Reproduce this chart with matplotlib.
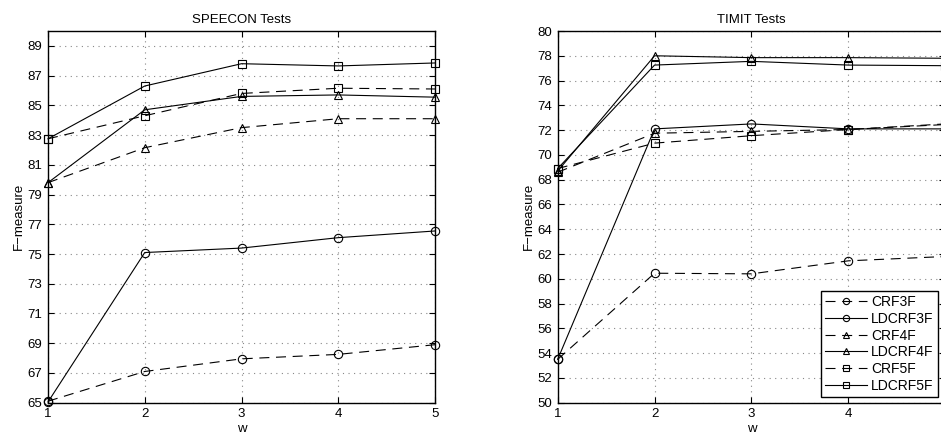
import matplotlib
matplotlib.use('Agg')
import matplotlib.pyplot as plt

# window sizes
w = [1, 2, 3, 4, 5]

# SPEECON results
sp_crf3 = [65.1, 67.1, 67.95, 68.25, 68.9]
sp_ldcrf3 = [65.05, 75.1, 75.4, 76.1, 76.55]
sp_crf4 = [79.8, 82.15, 83.5, 84.1, 84.1]
sp_ldcrf4 = [79.8, 84.7, 85.6, 85.7, 85.55]
sp_crf5 = [82.75, 84.3, 85.8, 86.15, 86.1]
sp_ldcrf5 = [82.75, 86.3, 87.8, 87.65, 87.85]

# TIMIT results
ti_crf3 = [53.5, 60.45, 60.4, 61.45, 61.8]
ti_ldcrf3 = [53.5, 72.1, 72.5, 72.1, 72.1]
ti_crf4 = [68.6, 71.75, 71.9, 72.05, 72.45]
ti_ldcrf4 = [68.7, 78.0, 77.85, 77.85, 77.8]
ti_crf5 = [68.9, 70.95, 71.55, 72.05, 72.5]
ti_ldcrf5 = [68.9, 77.25, 77.55, 77.25, 77.2]

names = ['CRF3F', 'LDCRF3F', 'CRF4F', 'LDCRF4F', 'CRF5F', 'LDCRF5F']
markers = ['o', 'o', '^', '^', 's', 's']
dashed = [True, False, True, False, True, False]

plt.rcParams['font.family'] = ['Liberation Sans', 'DejaVu Sans']
plt.rcParams['font.size'] = 9.5

fig = plt.figure(figsize=(9.41, 4.32), dpi=100)
ax1 = fig.add_axes([48/941, 29.3/432, 387/941, 371.7/432])
ax2 = fig.add_axes([557.7/941, 29.3/432, 387.5/941, 371.7/432])


def draw(ax, series):
    for s, name, m, d in zip(series, names, markers, dashed):
        kw = dict(color='black', lw=0.8, marker=m, ms=6, mfc='none',
                  mec='black', mew=0.8, label=name, clip_on=False)
        if d:
            ax.plot(w, s, ls=(0, (9, 6)), **kw)
        else:
            ax.plot(w, s, ls='-', **kw)
    ax.set_xlim(1, 5)
    ax.set_xticks(w)
    ax.grid(True, ls=(0, (1, 4)), color='#888888', lw=0.8)
    ax.tick_params(direction='in', top=True, right=True, length=4, width=0.8,
                   labelsize=9.5, pad=4)
    for sp in ax.spines.values():
        sp.set_linewidth(1.0)
    ax.set_xlabel('w', labelpad=2)
    ax.set_ylabel('F\u2212measure', labelpad=2)


draw(ax1, [sp_crf3, sp_ldcrf3, sp_crf4, sp_ldcrf4, sp_crf5, sp_ldcrf5])
ax1.set_ylim(65, 90)
ax1.set_yticks(range(65, 90, 2))
ax1.set_title('SPEECON Tests', fontsize=9.5, pad=6)

draw(ax2, [ti_crf3, ti_ldcrf3, ti_crf4, ti_ldcrf4, ti_crf5, ti_ldcrf5])
ax2.set_ylim(50, 80)
ax2.set_yticks(range(50, 81, 2))
ax2.set_title('TIMIT Tests', fontsize=9.5, pad=6)

leg = ax2.legend(loc='lower right', bbox_to_anchor=(938/941, 35/432),
                 bbox_transform=fig.transFigure, borderaxespad=0,
                 fontsize=10, markerscale=0.75,
                 handlelength=3.0, handletextpad=0.3, labelspacing=0.2,
                 borderpad=0.3, fancybox=False, framealpha=1, edgecolor='black')
leg.get_frame().set_linewidth(1.0)

fig.savefig('out.png', dpi=100)
